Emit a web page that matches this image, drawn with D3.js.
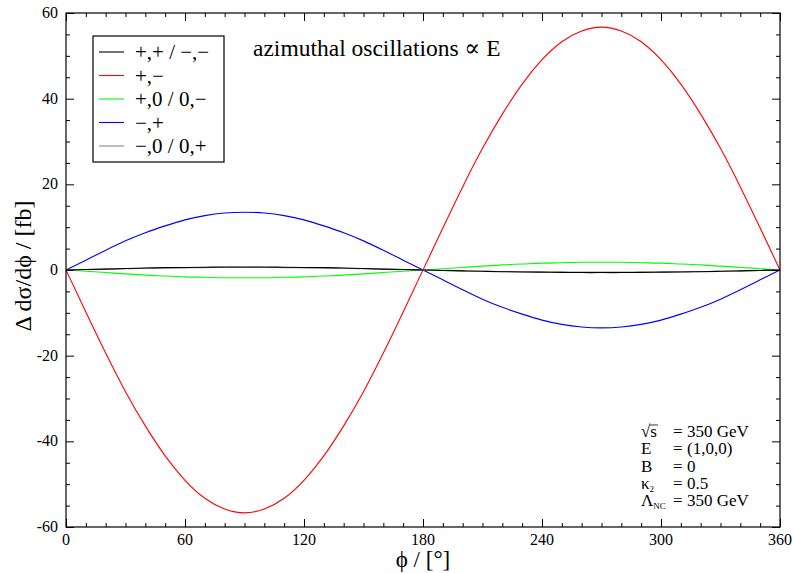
<!DOCTYPE html>
<html>
<head>
<meta charset="utf-8">
<script src="https://cdn.jsdelivr.net/npm/d3@7"></script>
<style>
  body { margin: 0; background: #fff; }
  svg { display: block; }
  text { font-family: "Liberation Serif", "DejaVu Serif", serif; }
</style>
</head>
<body>
<svg id="chart" width="794" height="573"></svg>
<script>
// phi grid in degrees
const phi = [0, 10, 20, 30, 40, 50, 60, 70, 80, 90, 100, 110, 120, 130, 140, 150, 160, 170, 180,
  190, 200, 210, 220, 230, 240, 250, 260, 270, 280, 290, 300, 310, 320, 330, 340, 350, 360];

// curves
const redVals = [0, -9.8, -19.4, -28.4, -36.4, -43.4, -49.1, -53.3, -55.8, -56.7, -55.8, -53.3, -49.1, -43.4, -36.4, -28.4, -19.4, -9.8, 0,
  9.8, 19.4, 28.4, 36.4, 43.4, 49.1, 53.3, 55.8, 56.7, 55.8, 53.3, 49.1, 43.4, 36.4, 28.4, 19.4, 9.8, 0];
const blueVals = [0, 2.3, 4.6, 6.8, 8.7, 10.3, 11.7, 12.7, 13.3, 13.5, 13.3, 12.7, 11.7, 10.3, 8.7, 6.8, 4.6, 2.3, 0,
  -2.3, -4.6, -6.8, -8.7, -10.3, -11.7, -12.7, -13.3, -13.5, -13.3, -12.7, -11.7, -10.3, -8.7, -6.8, -4.6, -2.3, 0];
const greenVals = [0, -0.3, -0.6, -0.9, -1.2, -1.4, -1.6, -1.7, -1.8, -1.8, -1.8, -1.7, -1.6, -1.4, -1.2, -0.9, -0.6, -0.3, 0,
  0.3, 0.6, 0.9, 1.2, 1.4, 1.6, 1.7, 1.8, 1.8, 1.8, 1.7, 1.6, 1.4, 1.2, 0.9, 0.6, 0.3, 0];
const blackVals = [0, 0.1, 0.2, 0.35, 0.45, 0.55, 0.6, 0.65, 0.7, 0.7, 0.7, 0.65, 0.6, 0.55, 0.45, 0.35, 0.2, 0.1, 0,
  -0.1, -0.2, -0.3, -0.4, -0.45, -0.5, -0.55, -0.6, -0.6, -0.6, -0.55, -0.5, -0.45, -0.4, -0.3, -0.2, -0.1, 0];
const brownVals = [0, 0.1, 0.2, 0.3, 0.4, 0.45, 0.5, 0.55, 0.6, 0.6, 0.6, 0.55, 0.5, 0.45, 0.4, 0.3, 0.2, 0.1, 0,
  -0.1, -0.2, -0.3, -0.35, -0.4, -0.45, -0.5, -0.5, -0.5, -0.5, -0.5, -0.45, -0.4, -0.35, -0.3, -0.2, -0.1, 0];

const legendLabels = ['+,+ / \u2212,\u2212', '+,\u2212', '+,0 / 0,\u2212', '\u2212,+', '\u2212,0 / 0,+'];
const xTicks = [0, 60, 120, 180, 240, 300, 360];
const yTicks = [-60, -40, -20, 0, 20, 40, 60];

const series = [
  { name: legendLabels[0], color: '#000000', values: blackVals },
  { name: legendLabels[1], color: '#ff0000', values: redVals },
  { name: legendLabels[2], color: '#00ff00', values: greenVals },
  { name: legendLabels[3], color: '#0000ff', values: blueVals },
  { name: legendLabels[4], color: '#a08080', values: brownVals }
];

const plot = { left: 66, right: 780, top: 13, bottom: 527 };
const serif = '"Liberation Serif", "DejaVu Serif", serif';
const svg = d3.select('#chart');

const x = d3.scaleLinear().domain([0, 360]).range([plot.left, plot.right]);
const y = d3.scaleLinear().domain([-60, 60]).range([plot.bottom, plot.top]);

// curves (red first so the small ones stay visible, brown under black)
const line = d3.line()
  .x((d) => x(d[0]))
  .y((d) => y(d[1]))
  .curve(d3.curveNatural);

const drawOrder = [1, 3, 2, 4, 0];
drawOrder.forEach((i) => {
  const s = series[i];
  svg.append('path')
    .datum(phi.map((p, k) => [p, s.values[k]]))
    .attr('fill', 'none')
    .attr('stroke', s.color)
    .attr('stroke-width', 1.1)
    .attr('d', line);
});

// axes with inward ticks on all four sides
function tickAxis(axisFn, scale, major, minor, transform) {
  const gMinor = svg.append('g').attr('transform', transform)
    .call(axisFn(scale).tickValues(minor).tickSize(4).tickFormat(''));
  const gMajor = svg.append('g').attr('transform', transform)
    .call(axisFn(scale).tickValues(major).tickSize(8).tickFormat(''));
  [gMinor, gMajor].forEach((g) => {
    g.select('.domain').remove();
    g.selectAll('line').attr('stroke', '#000').attr('stroke-width', 1);
  });
}

const xMinor = d3.range(0, 361, 10).filter((v) => v % 60 !== 0);
const yMinor = d3.range(-60, 61, 5).filter((v) => v % 20 !== 0);

tickAxis(d3.axisTop, x, xTicks, xMinor, `translate(0,${plot.bottom})`);
tickAxis(d3.axisBottom, x, xTicks, xMinor, `translate(0,${plot.top})`);
tickAxis(d3.axisRight, y, yTicks, yMinor, `translate(${plot.left},0)`);
tickAxis(d3.axisLeft, y, yTicks, yMinor, `translate(${plot.right},0)`);

svg.append('rect')
  .attr('x', plot.left)
  .attr('y', plot.top)
  .attr('width', plot.right - plot.left)
  .attr('height', plot.bottom - plot.top)
  .attr('fill', 'none')
  .attr('stroke', '#000')
  .attr('stroke-width', 1.2);

// tick labels
svg.append('g')
  .selectAll('text')
  .data(xTicks)
  .join('text')
  .attr('x', (d) => x(d))
  .attr('y', 545)
  .attr('text-anchor', 'middle')
  .attr('font-family', serif)
  .attr('font-size', 16)
  .text((d) => d);

svg.append('g')
  .selectAll('text')
  .data(yTicks)
  .join('text')
  .attr('x', 58)
  .attr('y', (d) => y(d) + 5)
  .attr('text-anchor', 'end')
  .attr('font-family', serif)
  .attr('font-size', 16)
  .text((d) => d);

// axis titles
svg.append('text')
  .attr('x', (plot.left + plot.right) / 2)
  .attr('y', 567)
  .attr('text-anchor', 'middle')
  .attr('font-family', serif)
  .attr('font-size', 23)
  .text('\u03d5 / [\u00b0]');

svg.append('text')
  .attr('transform', 'translate(31,266) rotate(-90)')
  .attr('text-anchor', 'middle')
  .attr('font-family', serif)
  .attr('font-size', 24)
  .text('\u0394 d\u03c3/d\u03d5 / [fb]');

// title inside the plot
svg.append('text')
  .attr('x', 253)
  .attr('y', 56)
  .attr('font-family', serif)
  .attr('font-size', 23.5)
  .text('azimuthal oscillations \u221d E');

// legend
const legend = svg.append('g');
legend.append('rect')
  .attr('x', 93)
  .attr('y', 36)
  .attr('width', 131)
  .attr('height', 126)
  .attr('fill', '#fff')
  .attr('stroke', '#000')
  .attr('stroke-width', 1.2);

series.forEach((s, i) => {
  const ly = 52 + i * 23.5;
  legend.append('line')
    .attr('x1', 99).attr('x2', 124)
    .attr('y1', ly).attr('y2', ly)
    .attr('stroke', s.color)
    .attr('stroke-width', 1.1);
  legend.append('text')
    .attr('x', 135)
    .attr('y', ly + 7)
    .attr('font-family', serif)
    .attr('font-size', 21)
    .text(s.name);
});

// parameter block
const paramLabels = ['\u221a', 'E', 'B', '\u03ba', '\u039b'];
const paramSubs = [null, null, null, '2', 'NC'];
const paramValues = ['350 GeV', '(1,0,0)', '0', '0.5', '350 GeV'];

paramLabels.forEach((lab, i) => {
  const py = 437 + i * 17.3;
  const t = svg.append('text')
    .attr('x', 641)
    .attr('y', py)
    .attr('font-family', serif)
    .attr('font-size', 17);
  t.append('tspan').text(lab);
  if (i === 0) {
    t.append('tspan').text('s');
    svg.append('line')
      .attr('x1', 650).attr('x2', 658)
      .attr('y1', py - 12).attr('y2', py - 12)
      .attr('stroke', '#000')
      .attr('stroke-width', 0.8);
  }
  if (paramSubs[i]) {
    t.append('tspan').attr('font-size', 9).attr('dy', 3).text(paramSubs[i]);
  }
  svg.append('text')
    .attr('x', 673)
    .attr('y', py)
    .attr('font-family', serif)
    .attr('font-size', 17)
    .text('=');
  svg.append('text')
    .attr('x', 687)
    .attr('y', py)
    .attr('font-family', serif)
    .attr('font-size', 17)
    .text(paramValues[i]);
});
</script>
</body>
</html>
